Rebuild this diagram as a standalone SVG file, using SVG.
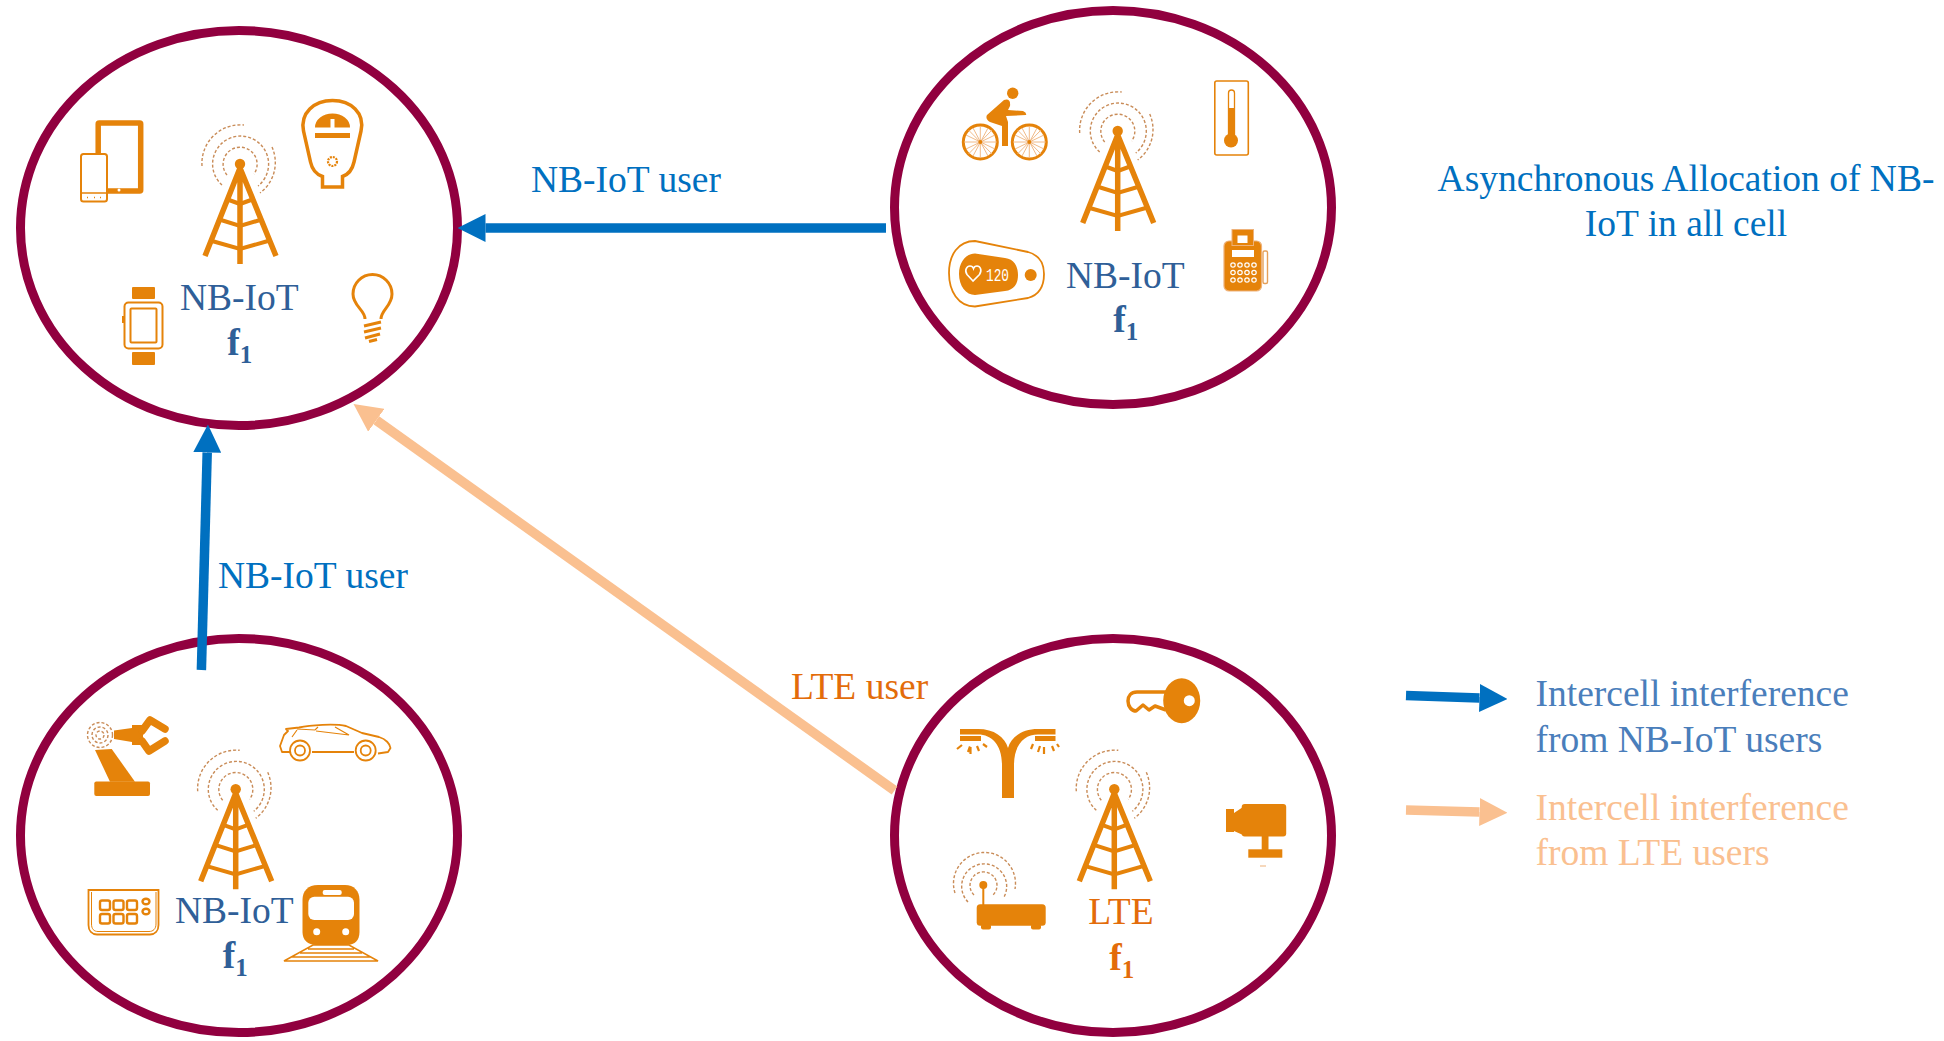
<svg xmlns="http://www.w3.org/2000/svg" xmlns:xlink="http://www.w3.org/1999/xlink" width="1944" height="1041" viewBox="0 0 1944 1041">
<style>
text{font-family:"Liberation Serif","Times New Roman",serif;font-size:37.5px}
.cell{fill:#fff;stroke:#91003f;stroke-width:9}
.nb{fill:#2f5f98}.lte{fill:#e36c0a}.blue{fill:#0070c0}
.lg1{fill:#4a7ebb}.lg2{fill:#fac090}
.b{font-weight:bold}.s{font-size:25px;font-weight:bold}
.o{fill:#e5830a}
.ol{fill:none;stroke:#e5830a}
.t{fill:none;stroke:#e5830a;stroke-width:5.5;stroke-linecap:butt}
.d{fill:none;stroke:#c98c58;stroke-width:1.4;stroke-dasharray:3 2}
.w{fill:#fff}
.cb{fill:none;stroke:#0070c0;stroke-width:9.5}
.co{fill:none;stroke:#fac090;stroke-width:9.7}
</style>
<defs>
<marker id="hb" markerUnits="userSpaceOnUse" markerWidth="28" markerHeight="28" viewBox="0 0 28 28" refX="0" refY="14" orient="auto"><path d="M0 0L28 14L0 28Z" fill="#0070c0"/></marker>
<marker id="ho" markerUnits="userSpaceOnUse" markerWidth="28" markerHeight="28" viewBox="0 0 28 28" refX="0" refY="14" orient="auto"><path d="M0 0L28 14L0 28Z" fill="#fac090"/></marker>
<g id="tower">
<path class="d" d="M-13 11A17 17 0 1 1 14 10"/>
<path class="d" d="M-18 21A28 28 0 1 1 18 22"/>
<path class="d" d="M-38 2A38.5 38.5 0 0 1 4 -39"/>
<path class="d" d="M32 -17A38 38 0 0 1 20 29"/>
<circle class="o" r="5.2"/>
<path class="t" d="M0 4L-35 92M0 4L36 92M0 4V100"/>
<path class="t" style="stroke-width:4" d="M-11 36L0 40L11 36M-19 56L0 62L20 56M-28 77L0 85L28 77"/>
</g>
</defs>

<g id="cell-top-left">
<ellipse class="cell" cx="239" cy="228" rx="218.5" ry="197.5"/>
<use xlink:href="#tower" href="#tower" x="240" y="164"/>
<g id="tablet-phone">
<rect x="98.2" y="123" width="42.5" height="68" rx="1" fill="#fff" stroke="#e5830a" stroke-width="5.5"/>
<circle cx="119" cy="190" r="1.5" fill="#fff"/>
<rect x="81" y="154" width="26" height="47.5" rx="2.5" fill="#fff" stroke="#e5830a" stroke-width="2"/>
<path class="ol" stroke-width="1.5" d="M81 193H107M87 197.500h1M94 197.500h1M100 197.500h1"/>
</g>
<g id="parking-meter">
<path class="ol" stroke-width="3.500" d="M322.500 187V176.500C315 174 312 169 310.500 162L303.500 131C300 113 314 100.500 332.500 100.500C351 100.500 365 113 361 131L354 162C352.500 169 349.500 174 342.500 176.500V187Z"/>
<path class="o" d="M315 127.500A17.500 14 0 0 1 350 127.500H334.500V119H330.500V127.500Z"/>
<path class="o" d="M315 133H350V138H315Z"/>
<circle cx="332.500" cy="161.500" r="4.500" fill="none" stroke="#e5830a" stroke-width="2.200" stroke-dasharray="2 1"/>
</g>
<g id="watch">
<rect class="o" x="132" y="287" width="23" height="12" rx="1"/>
<rect class="o" x="132" y="352" width="23" height="13" rx="1"/>
<rect x="124.500" y="302.500" width="38" height="46" rx="4" fill="#fff" stroke="#e5830a" stroke-width="2"/>
<rect x="130.500" y="308.500" width="26" height="34" rx="1" fill="#fff" stroke="#e5830a" stroke-width="2"/>
<rect class="o" x="122" y="316" width="2" height="7"/>
</g>
<g id="bulb">
<path class="ol" stroke-width="3" d="M365 319C365 310 353 306 353 294A19.500 19.500 0 0 1 392 294C392 306 381 310 381 319"/>
<path class="ol" stroke-width="3" d="M364 326L381 322M364 332L381 328M365 338L380 334M369 341.500L377 339.500"/>
</g>
<text class="nb" x="180" y="310">NB-IoT</text>
<text class="nb b" x="227.300" y="355">f<tspan class="s" dy="8">1</tspan></text>
</g>

<g id="cell-top-right">
<ellipse class="cell" cx="1113" cy="207.500" rx="218.500" ry="197"/>
<use xlink:href="#tower" href="#tower" x="1117.700" y="131"/>
<g id="cyclist">
<circle class="o" cx="1012.700" cy="93.300" r="5.700"/>
<circle cx="980.300" cy="142" r="17" fill="#fff" stroke="#e5830a" stroke-width="3"/>
<circle cx="1029.300" cy="142" r="17" fill="#fff" stroke="#e5830a" stroke-width="3"/>
<path stroke="#eeb27a" stroke-width="0.900" d="M964 142H997M980.300 126V158M968.500 130L992 154M968.500 154L992 130M966 135L995 149M966 149L995 135M973 128L988 156M973 156L988 128M1013 142H1046M1029.300 126V158M1017.500 130L1041 154M1017.500 154L1041 130M1015 135L1044 149M1015 149L1044 135M1022 128L1037 156M1022 156L1037 128"/>
<circle class="o" cx="980.300" cy="142" r="2"/><circle class="o" cx="1029.300" cy="142" r="2"/>
<path class="o" d="M987 115L1004 100Q1011 98 1010 106L1008 110L1023 111Q1027 113 1026 115L1006 116L1008 122V146H1002V126L990 122Q985 119 987 115Z"/>
</g>
<g id="thermometer">
<rect x="1214.800" y="81" width="33.500" height="74" rx="2" fill="#fff" stroke="#e5830a" stroke-width="1.600"/>
<path class="ol" stroke-width="1.300" d="M1228.500 135V93A3 3 0 0 1 1234.500 93V135"/>
<rect class="o" x="1229" y="108" width="5" height="30"/>
<circle class="o" cx="1231" cy="140.500" r="7"/>
</g>
<g id="heart-monitor">
<path class="ol" stroke-width="1.800" d="M975 241L1028 252C1039 255 1044 263 1044 274C1044 287 1039 295 1028 298L975 306.500C958 306.500 949 291 949 273C949 255 958 241 975 241Z"/>
<path class="o" d="M975 253.500L1005 258C1014 259 1018 266 1018 275C1018 284 1014 290 1005 291L975 295C966 295 959 286 959 274C959 262 966 253.500 975 253.500Z"/>
<circle class="o" cx="1030.700" cy="275" r="6"/>
<path fill="none" stroke="#fff" stroke-width="1.600" d="M973 281L967 274.500C964 270 967 266 970 266C971.500 266 973 267 973.500 268.500C974 267 975.500 266 977 266C980 266 982.500 270 979.500 274.500Z"/>
<text x="986" y="281" textLength="23" lengthAdjust="spacingAndGlyphs" fill="#fff" style="font-family:'Liberation Mono',monospace;font-size:19px">120</text>
</g>
<g id="pos-terminal">
<rect x="1224" y="241" width="37.500" height="50" rx="5" fill="#e5830a" stroke="#eeb27a" stroke-width="1.200"/>
<rect x="1232" y="229.500" width="21.500" height="16" fill="#e5830a" stroke="#eeb27a" stroke-width="1"/>
<rect class="w" x="1237.500" y="235.500" width="10" height="7.500"/>
<rect class="w" x="1232" y="250" width="22" height="7"/>
<g fill="#e5830a" stroke="#fff" stroke-width="1.200"><circle cx="1233" cy="265" r="2.200"/><circle cx="1240" cy="265" r="2.200"/><circle cx="1247" cy="265" r="2.200"/><circle cx="1254" cy="265" r="2.200"/><circle cx="1233" cy="272.500" r="2.200"/><circle cx="1240" cy="272.500" r="2.200"/><circle cx="1247" cy="272.500" r="2.200"/><circle cx="1254" cy="272.500" r="2.200"/><circle cx="1233" cy="280" r="2.200"/><circle cx="1240" cy="280" r="2.200"/><circle cx="1247" cy="280" r="2.200"/><circle cx="1254" cy="280" r="2.200"/></g>
<rect x="1263" y="251" width="4.500" height="32.500" rx="1.500" fill="#fff" stroke="#e5a05a" stroke-width="1.400"/>
</g>
<text class="nb" x="1066" y="287.700">NB-IoT</text>
<text class="nb b" x="1113.300" y="332">f<tspan class="s" dy="8">1</tspan></text>
</g>

<g id="cell-bottom-left">
<ellipse class="cell" cx="239" cy="835.500" rx="218.500" ry="197"/>
<use xlink:href="#tower" href="#tower" x="235.700" y="789.300"/>
<g id="robot-arm">
<circle class="d" cx="100" cy="735" r="12.500"/><circle class="d" cx="100" cy="735" r="8"/><circle class="d" cx="100" cy="735" r="4"/>
<path class="o" d="M95 750L111.700 749L135 781.700H110Z"/>
<rect class="o" x="94.300" y="781.500" width="55.700" height="14.500" rx="2"/>
<path class="o" d="M114 730.500L132 728V725H143V745H132V742L114 739Z"/>
<path class="ol" stroke-width="7.500" stroke-linecap="round" stroke-linejoin="round" d="M142 731L150 720L165 729M142 741L149 751L165 741"/>
</g>
<g id="car">
<path class="ol" stroke-width="1.800" stroke-linejoin="round" d="M290 752H282L280 746L284 735L288 731L286 729L299 727.500C310 725 335 723.500 346 726L362 733L379 737C386 739 390 744 390.500 748L388 752L378 753.500M354 752H312"/>
<path class="ol" stroke-width="1.200" d="M297 729L315 730L318 727M316 731L349 735L335 727M292 737L297 730"/>
<circle cx="300" cy="750.500" r="10" fill="#fff" stroke="#e5830a" stroke-width="1.800"/><circle cx="300" cy="750.500" r="5" fill="#fff" stroke="#e5830a" stroke-width="1.800"/>
<circle cx="365.700" cy="750.500" r="10" fill="#fff" stroke="#e5830a" stroke-width="1.800"/><circle cx="365.700" cy="750.500" r="5" fill="#fff" stroke="#e5830a" stroke-width="1.800"/>
</g>
<g id="keypad">
<path class="ol" stroke-width="1.800" d="M88.500 890H158.500V925C158.500 931 155 934.500 150 934.500H97C92 934.500 88.500 931 88.500 925Z"/>
<path class="ol" stroke-width="1" d="M91.500 892V924C91.500 929 94 931.500 98 931.500H149C153 931.500 156 929 156 924V892"/>
<g class="ol" stroke-width="2.400"><rect x="100" y="900.500" width="10" height="9.500" rx="2"/><rect x="113.500" y="900.500" width="10" height="9.500" rx="2"/><rect x="127" y="900.500" width="10" height="9.500" rx="2"/><rect x="100" y="914" width="10" height="9.500" rx="2"/><rect x="113.500" y="914" width="10" height="9.500" rx="2"/><rect x="127" y="914" width="10" height="9.500" rx="2"/><ellipse cx="146" cy="901.500" rx="3.500" ry="2.800"/><ellipse cx="146" cy="911.500" rx="3.500" ry="2.800"/></g>
</g>
<g id="train">
<path class="o" d="M318 885H345C354 885 359.500 891 359.500 900V932C359.500 940 355 945 347 945H316C308 945 302.500 940 302.500 932V900C302.500 891 308 885 318 885Z"/>
<rect class="w" x="308.300" y="896.700" width="45.700" height="23.300" rx="6"/>
<rect class="w" x="322.700" y="890" width="19" height="5" rx="2"/>
<circle class="w" cx="316.700" cy="931.700" r="3.500"/><circle class="w" cx="345.700" cy="931.700" r="3.500"/>
<path class="ol" stroke-width="1.500" d="M284 961H378L349 945H313ZM308 949H354M300 953H362M292 957H370"/>
</g>
<text class="nb" x="175" y="923">NB-IoT</text>
<text class="nb b" x="222.700" y="968">f<tspan class="s" dy="8">1</tspan></text>
</g>

<g id="cell-bottom-right">
<ellipse class="cell" cx="1113" cy="835.500" rx="218.500" ry="197"/>
<use xlink:href="#tower" href="#tower" x="1114.300" y="789.300"/>
<g id="key">
<ellipse class="o" cx="1181.700" cy="700.700" rx="18.500" ry="22.500"/>
<circle class="w" cx="1189.300" cy="700.700" r="5.500"/>
<path class="ol" stroke-width="3.500" stroke-linejoin="round" d="M1166 692H1137C1131 692 1128 696 1128 701C1128 707 1132 711 1136 711L1143 705L1149 710L1155 706L1166 710"/>
</g>
<g id="street-lamp">
<path class="o" d="M960 729H978C994 729 1005 737 1008 748C1011 737 1022 729 1038 729H1055.500V734.500H1038C1024 734.500 1014 745 1014 765V798H1002V765C1002 745 992 734.500 978 734.500H960Z"/>
<rect class="o" x="960" y="736" width="21" height="5"/><rect class="o" x="1035" y="736" width="20.500" height="5"/>
<path class="ol" stroke-width="2.200" d="M962 745L957 749M970 746.500L968 752M970.500 747V754M977 746L979 751M983 744L987 747M1033 744L1031 749M1040 746L1038 752M1044 747V754M1052 746L1054 751M1057 744L1059 747"/>
</g>
<g id="camera">
<rect class="o" x="1241.700" y="804" width="44.500" height="32.500" rx="3"/>
<path class="o" d="M1226 809H1234V813L1243 807V835L1234 831V832H1226Z"/>
<rect class="o" x="1261.700" y="836" width="6.800" height="14"/>
<rect class="o" x="1248.300" y="849.300" width="34" height="8.400"/>
<rect x="1260" y="865.500" width="6" height="1" fill="#eeb27a"/>
</g>
<g id="router">
<path class="d" d="M974 895A13.500 13.500 0 1 1 993 895"/>
<path class="d" d="M968 902A22.500 22.500 0 1 1 1004 897"/>
<path class="d" d="M955 893A31 31 0 1 1 1015 889"/>
<circle class="o" cx="983.300" cy="885" r="4"/>
<rect class="o" x="982.300" y="885" width="2" height="20"/>
<rect class="o" x="976.700" y="904.300" width="69" height="21.500" rx="3.500"/>
<rect class="o" x="981" y="924" width="10" height="5.500" rx="2"/><rect class="o" x="1031" y="924" width="10" height="5.500" rx="2"/>
</g>
<text class="lte" x="1088.300" y="924.300">LTE</text>
<text class="lte b" x="1109.300" y="970">f<tspan class="s" dy="8">1</tspan></text>
</g>

<g id="connectors">
<line class="cb" x1="886" y1="228" x2="485.500" y2="228" marker-end="url(#hb)"/>
<line class="cb" x1="201.400" y1="670" x2="207.200" y2="452.500" marker-end="url(#hb)"/>
<line class="co" x1="894.500" y1="790.500" x2="376.300" y2="420.300" marker-end="url(#ho)"/>
</g>
<g id="connector-labels">
<text class="blue" x="531" y="191.500">NB-IoT user</text>
<text class="blue" x="218" y="587.500">NB-IoT user</text>
<text class="lte" x="791" y="699">LTE user</text>
</g>
<g id="title">
<text class="blue" x="1686" y="191" text-anchor="middle">Asynchronous Allocation of NB-</text>
<text class="blue" x="1686" y="236" text-anchor="middle">IoT in all cell</text>
</g>
<g id="legend">
<line class="cb" x1="1406" y1="695.500" x2="1479.500" y2="698" marker-end="url(#hb)"/>
<text class="lg1" x="1535.500" y="706">Intercell interference</text>
<text class="lg1" x="1535.500" y="752">from NB-IoT users</text>
<line class="co" x1="1406" y1="810" x2="1479.500" y2="812" marker-end="url(#ho)"/>
<text class="lg2" x="1535.500" y="820">Intercell interference</text>
<text class="lg2" x="1535.500" y="865">from LTE users</text>
</g>
</svg>
